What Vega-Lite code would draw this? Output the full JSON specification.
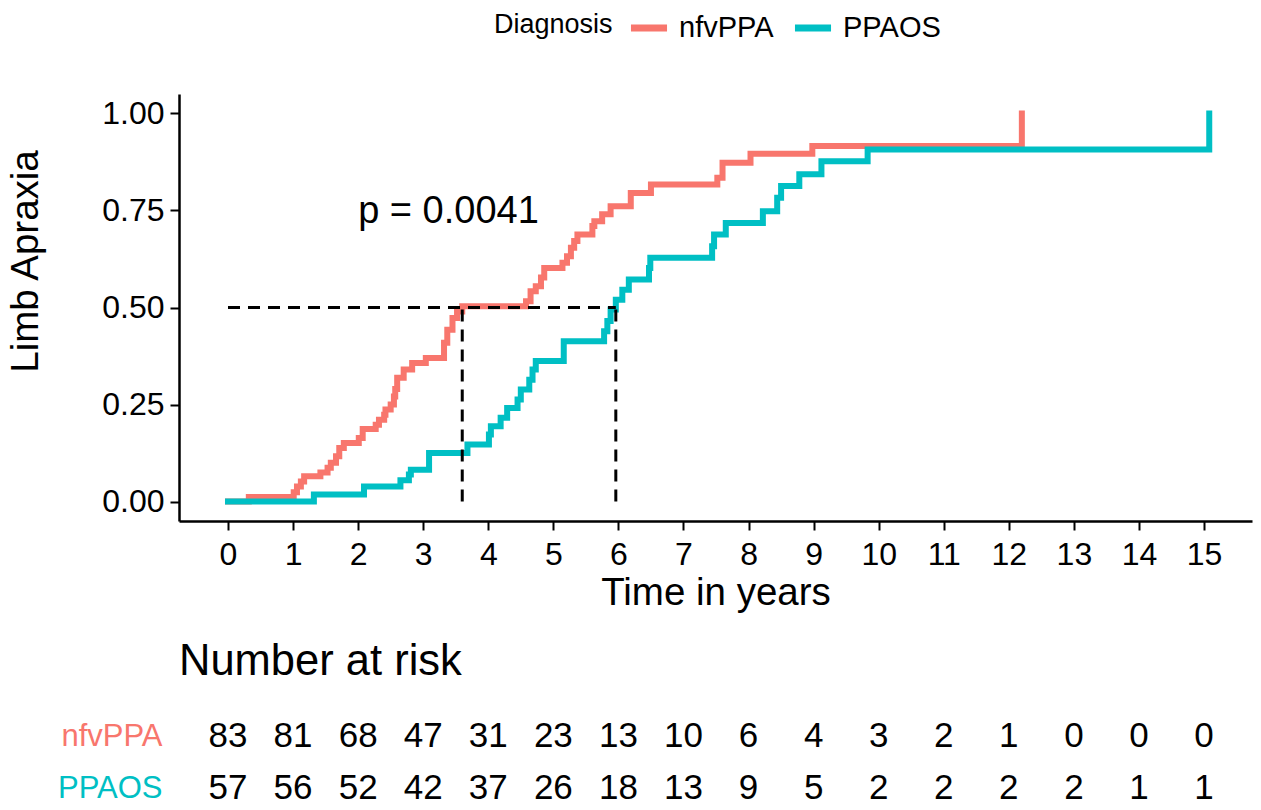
{
  "$schema": "https://vega.github.io/schema/vega-lite/v6.json",
  "background": "white",
  "padding": {"left": 6, "top": 6, "right": 5, "bottom": 5},
  "config": {
    "font": "Liberation Sans",
    "view": {"stroke": null},
    "axis": {"grid": false, "domainColor": "black", "tickColor": "black", "labelColor": "black", "titleColor": "black", "titleFontWeight": "normal"},
    "title": {"color": "black"}
  },
  "datasets": {
    "curves": [
      {"g": "nfvPPA", "t": 0, "s": 0},
      {"g": "nfvPPA", "t": 0.32, "s": 0.012},
      {"g": "nfvPPA", "t": 1.01, "s": 0.024},
      {"g": "nfvPPA", "t": 1.06, "s": 0.039},
      {"g": "nfvPPA", "t": 1.12, "s": 0.052},
      {"g": "nfvPPA", "t": 1.17, "s": 0.065},
      {"g": "nfvPPA", "t": 1.42, "s": 0.075},
      {"g": "nfvPPA", "t": 1.53, "s": 0.087},
      {"g": "nfvPPA", "t": 1.58, "s": 0.1},
      {"g": "nfvPPA", "t": 1.66, "s": 0.117},
      {"g": "nfvPPA", "t": 1.71, "s": 0.138},
      {"g": "nfvPPA", "t": 1.78, "s": 0.151},
      {"g": "nfvPPA", "t": 2.01, "s": 0.164},
      {"g": "nfvPPA", "t": 2.07, "s": 0.187},
      {"g": "nfvPPA", "t": 2.27, "s": 0.198},
      {"g": "nfvPPA", "t": 2.32, "s": 0.211},
      {"g": "nfvPPA", "t": 2.4, "s": 0.224},
      {"g": "nfvPPA", "t": 2.42, "s": 0.237},
      {"g": "nfvPPA", "t": 2.5, "s": 0.25},
      {"g": "nfvPPA", "t": 2.55, "s": 0.271},
      {"g": "nfvPPA", "t": 2.57, "s": 0.29},
      {"g": "nfvPPA", "t": 2.6, "s": 0.319},
      {"g": "nfvPPA", "t": 2.7, "s": 0.34},
      {"g": "nfvPPA", "t": 2.83, "s": 0.357},
      {"g": "nfvPPA", "t": 3.04, "s": 0.37},
      {"g": "nfvPPA", "t": 3.32, "s": 0.409},
      {"g": "nfvPPA", "t": 3.37, "s": 0.443},
      {"g": "nfvPPA", "t": 3.45, "s": 0.473},
      {"g": "nfvPPA", "t": 3.52, "s": 0.49},
      {"g": "nfvPPA", "t": 3.6, "s": 0.503},
      {"g": "nfvPPA", "t": 4.58, "s": 0.516},
      {"g": "nfvPPA", "t": 4.65, "s": 0.542},
      {"g": "nfvPPA", "t": 4.73, "s": 0.555},
      {"g": "nfvPPA", "t": 4.81, "s": 0.577},
      {"g": "nfvPPA", "t": 4.86, "s": 0.602},
      {"g": "nfvPPA", "t": 5.14, "s": 0.615},
      {"g": "nfvPPA", "t": 5.21, "s": 0.632},
      {"g": "nfvPPA", "t": 5.27, "s": 0.654},
      {"g": "nfvPPA", "t": 5.32, "s": 0.671},
      {"g": "nfvPPA", "t": 5.37, "s": 0.688},
      {"g": "nfvPPA", "t": 5.6, "s": 0.71},
      {"g": "nfvPPA", "t": 5.63, "s": 0.722},
      {"g": "nfvPPA", "t": 5.75, "s": 0.74},
      {"g": "nfvPPA", "t": 5.88, "s": 0.761},
      {"g": "nfvPPA", "t": 6.19, "s": 0.795},
      {"g": "nfvPPA", "t": 6.5, "s": 0.817},
      {"g": "nfvPPA", "t": 7.52, "s": 0.834},
      {"g": "nfvPPA", "t": 7.6, "s": 0.873},
      {"g": "nfvPPA", "t": 8.03, "s": 0.896},
      {"g": "nfvPPA", "t": 8.98, "s": 0.916},
      {"g": "nfvPPA", "t": 12.2, "s": 1.0},
      {"g": "PPAOS", "t": 0, "s": 0},
      {"g": "PPAOS", "t": 1.32, "s": 0.018},
      {"g": "PPAOS", "t": 2.09, "s": 0.039},
      {"g": "PPAOS", "t": 2.65, "s": 0.055},
      {"g": "PPAOS", "t": 2.78, "s": 0.07},
      {"g": "PPAOS", "t": 2.81, "s": 0.082},
      {"g": "PPAOS", "t": 3.09, "s": 0.125},
      {"g": "PPAOS", "t": 3.68, "s": 0.147},
      {"g": "PPAOS", "t": 4.01, "s": 0.173},
      {"g": "PPAOS", "t": 4.04, "s": 0.194},
      {"g": "PPAOS", "t": 4.19, "s": 0.216},
      {"g": "PPAOS", "t": 4.29, "s": 0.241},
      {"g": "PPAOS", "t": 4.45, "s": 0.263},
      {"g": "PPAOS", "t": 4.5, "s": 0.289},
      {"g": "PPAOS", "t": 4.63, "s": 0.314},
      {"g": "PPAOS", "t": 4.68, "s": 0.34},
      {"g": "PPAOS", "t": 4.73, "s": 0.362},
      {"g": "PPAOS", "t": 5.16, "s": 0.413},
      {"g": "PPAOS", "t": 5.78, "s": 0.439},
      {"g": "PPAOS", "t": 5.83, "s": 0.465},
      {"g": "PPAOS", "t": 5.88, "s": 0.495},
      {"g": "PPAOS", "t": 5.96, "s": 0.52},
      {"g": "PPAOS", "t": 6.06, "s": 0.546},
      {"g": "PPAOS", "t": 6.16, "s": 0.572},
      {"g": "PPAOS", "t": 6.47, "s": 0.602},
      {"g": "PPAOS", "t": 6.49, "s": 0.628},
      {"g": "PPAOS", "t": 7.44, "s": 0.658},
      {"g": "PPAOS", "t": 7.47, "s": 0.688},
      {"g": "PPAOS", "t": 7.65, "s": 0.718},
      {"g": "PPAOS", "t": 8.22, "s": 0.748},
      {"g": "PPAOS", "t": 8.44, "s": 0.783},
      {"g": "PPAOS", "t": 8.5, "s": 0.813},
      {"g": "PPAOS", "t": 8.78, "s": 0.843},
      {"g": "PPAOS", "t": 9.12, "s": 0.877},
      {"g": "PPAOS", "t": 9.83, "s": 0.907},
      {"g": "PPAOS", "t": 15.08, "s": 1.0}
    ],
    "median": [
      {"x": 0, "x2": 5.96, "y": 0.5, "y2": 0.5},
      {"x": 3.6, "x2": 3.6, "y": 0, "y2": 0.5},
      {"x": 5.96, "x2": 5.96, "y": 0, "y2": 0.5}
    ],
    "risk": [
      {"g": "nfvPPA", "t": 0, "n": 83}, {"g": "nfvPPA", "t": 1, "n": 81}, {"g": "nfvPPA", "t": 2, "n": 68},
      {"g": "nfvPPA", "t": 3, "n": 47}, {"g": "nfvPPA", "t": 4, "n": 31}, {"g": "nfvPPA", "t": 5, "n": 23},
      {"g": "nfvPPA", "t": 6, "n": 13}, {"g": "nfvPPA", "t": 7, "n": 10}, {"g": "nfvPPA", "t": 8, "n": 6},
      {"g": "nfvPPA", "t": 9, "n": 4}, {"g": "nfvPPA", "t": 10, "n": 3}, {"g": "nfvPPA", "t": 11, "n": 2},
      {"g": "nfvPPA", "t": 12, "n": 1}, {"g": "nfvPPA", "t": 13, "n": 0}, {"g": "nfvPPA", "t": 14, "n": 0},
      {"g": "nfvPPA", "t": 15, "n": 0},
      {"g": "PPAOS", "t": 0, "n": 57}, {"g": "PPAOS", "t": 1, "n": 56}, {"g": "PPAOS", "t": 2, "n": 52},
      {"g": "PPAOS", "t": 3, "n": 42}, {"g": "PPAOS", "t": 4, "n": 37}, {"g": "PPAOS", "t": 5, "n": 26},
      {"g": "PPAOS", "t": 6, "n": 18}, {"g": "PPAOS", "t": 7, "n": 13}, {"g": "PPAOS", "t": 8, "n": 9},
      {"g": "PPAOS", "t": 9, "n": 5}, {"g": "PPAOS", "t": 10, "n": 2}, {"g": "PPAOS", "t": 11, "n": 2},
      {"g": "PPAOS", "t": 12, "n": 2}, {"g": "PPAOS", "t": 13, "n": 2}, {"g": "PPAOS", "t": 14, "n": 1},
      {"g": "PPAOS", "t": 15, "n": 1}
    ]
  },
  "spacing": 27,
  "vconcat": [
    {
      "width": 1073,
      "height": 427,
      "layer": [
        {
          "data": {"name": "curves"},
          "mark": {"type": "line", "interpolate": "step-after", "strokeWidth": 6, "strokeCap": "square"},
          "encoding": {
            "x": {
              "field": "t", "type": "quantitative",
              "scale": {"domain": [-0.753, 15.737], "nice": false, "zero": false},
              "axis": {
                "title": "Time in years", "values": [0,1,2,3,4,5,6,7,8,9,10,11,12,13,14,15], "format": "d",
                "labelFontSize": 32, "titleFontSize": 38.5, "tickSize": 9, "tickWidth": 2, "domainWidth": 2.5,
                "labelPadding": 9, "titlePadding": 4, "labelFlush": false
              }
            },
            "y": {
              "field": "s", "type": "quantitative",
              "scale": {"domain": [-0.05, 1.05], "nice": false, "zero": false},
              "axis": {
                "title": "Limb Apraxia", "values": [0, 0.25, 0.5, 0.75, 1], "format": ".2f",
                "labelFontSize": 32, "titleFontSize": 38.5, "tickSize": 9, "tickWidth": 2, "domainWidth": 2.5,
                "labelPadding": 6, "titlePadding": 56, "titleY": 167, "labelFlush": false
              }
            },
            "color": {
              "field": "g", "type": "nominal",
              "scale": {"domain": ["nfvPPA", "PPAOS"], "range": ["#F8766D", "#00BFC4"]},
              "legend": {
                "title": "Diagnosis", "orient": "none", "legendX": 315, "legendY": -88, "direction": "horizontal",
                "titleOrient": "left", "titleFontSize": 27, "titleFontWeight": "normal", "titleColor": "black",
                "labelFontSize": 29, "labelColor": "black", "symbolType": "stroke", "symbolStrokeWidth": 7,
                "symbolSize": 1300, "titlePadding": 14, "columnPadding": 6, "labelOffset": 8, "titleBaseline": "middle"
              }
            }
          }
        },
        {
          "data": {"name": "median"},
          "mark": {"type": "rule", "strokeDash": [12, 8], "strokeWidth": 3, "color": "black"},
          "encoding": {
            "x": {"field": "x", "type": "quantitative"},
            "x2": {"field": "x2"},
            "y": {"field": "y", "type": "quantitative"},
            "y2": {"field": "y2"}
          }
        },
        {
          "data": {"values": [{}]},
          "mark": {"type": "text", "fontSize": 38, "align": "left", "baseline": "middle", "color": "black"},
          "encoding": {
            "x": {"datum": 2.0},
            "y": {"datum": 0.745},
            "text": {"value": "p = 0.0041"}
          }
        }
      ]
    },
    {
      "width": 1073,
      "height": 78,
      "data": {"name": "risk"},
      "title": {"text": "Number at risk", "anchor": "start", "frame": "group", "fontSize": 43.5, "fontWeight": "normal", "offset": 35},
      "mark": {"type": "text", "fontSize": 35, "baseline": "middle", "color": "black"},
      "encoding": {
        "x": {"field": "t", "type": "quantitative", "scale": {"domain": [-0.753, 15.737], "nice": false, "zero": false}, "axis": null},
        "y": {
          "field": "g", "type": "nominal",
          "scale": {"type": "point", "domain": ["nfvPPA", "PPAOS"], "padding": 0.25},
          "axis": {
            "title": null, "domain": false, "ticks": false, "labelFontSize": 31, "labelPadding": 17,
            "labelColor": {"condition": {"test": "datum.value === 'nfvPPA'", "value": "#F8766D"}, "value": "#00BFC4"}
          }
        },
        "text": {"field": "n", "type": "quantitative"}
      }
    }
  ]
}
